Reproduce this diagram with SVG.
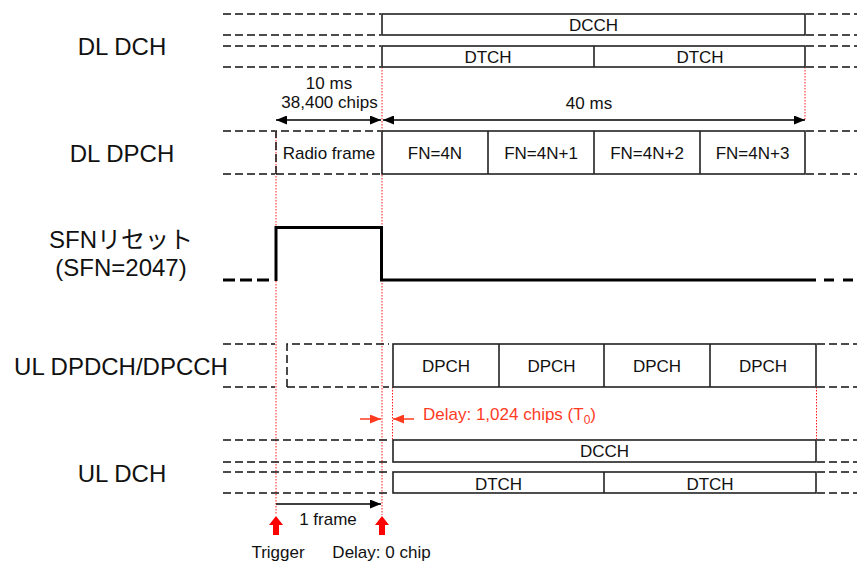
<svg xmlns="http://www.w3.org/2000/svg" width="857" height="563" viewBox="0 0 857 563">
<defs>
<style>
text{font-family:"Liberation Sans",Arial,"Noto Sans CJK JP",sans-serif;fill:#111}
.lbl{font-size:24px;text-anchor:middle}
.t{font-size:17px;text-anchor:middle}
.dash{stroke:#111;stroke-width:1.5;stroke-dasharray:8 4;fill:none}
.box{stroke:#222;stroke-width:1.6;fill:#fff}
.div{stroke:#222;stroke-width:1.6}
.guide{stroke:#ff1a1a;stroke-width:1;stroke-dasharray:1.5 1.5;fill:none}
.sig{stroke:#000;stroke-width:3;fill:none}
.arr{stroke:#000;stroke-width:1.5;fill:none}
.red{fill:#ff3b1f}
</style>
<marker id="ah" markerUnits="userSpaceOnUse" markerWidth="11" markerHeight="9" refX="11" refY="4.5" orient="auto-start-reverse"><path d="M0,0 L11,4.5 L0,9 z" fill="#000"/></marker>
<marker id="ahr" markerUnits="userSpaceOnUse" markerWidth="11" markerHeight="9" refX="11" refY="4.5" orient="auto-start-reverse"><path d="M0,0 L11,4.5 L0,9 z" fill="#ff3b1f"/></marker>
</defs>

<g id="labels">
<text class="lbl" x="122" y="55">DL DCH</text>
<text class="lbl" x="122" y="162">DL DPCH</text>
<text class="lbl" x="121" y="248">SFNリセット</text>
<text class="lbl" x="121" y="276">(SFN=2047)</text>
<text class="lbl" x="121" y="375">UL DPDCH/DPCCH</text>
<text class="lbl" x="122" y="482">UL DCH</text>
</g>

<g id="guides">
<line class="guide" x1="276" y1="131" x2="276" y2="515"/>
<line class="guide" x1="382" y1="67" x2="382" y2="515"/>
<line class="guide" x1="805" y1="67" x2="805" y2="120"/>
<line class="guide" x1="392.5" y1="387" x2="392.5" y2="440"/>
<line class="guide" x1="816.5" y1="387" x2="816.5" y2="440"/>
</g>

<g id="dl-dch">
<path class="dash" d="M223,14H381M223,35H381M223,46H381M223,67H381M806,14H857M806,35H857M806,46H857M806,67H857"/>
<rect class="box" x="382" y="14" width="423" height="21"/>
<rect class="box" x="382" y="46" width="423" height="21"/>
<line class="div" x1="594" y1="46" x2="594" y2="67"/>
<text class="t" x="593.5" y="31">DCCH</text>
<text class="t" x="488" y="63">DTCH</text>
<text class="t" x="700" y="63">DTCH</text>
</g>

<g id="dl-dpch">
<path class="dash" d="M223,131H275M223,174H275M806,131H857M806,174H857"/>
<path class="dash" d="M276,174V131H381M276,174H381"/>
<rect class="box" x="382" y="131" width="423" height="43"/>
<path class="div" d="M488,131V174M594,131V174M700,131V174"/>
<text class="t" x="329" y="159">Radio frame</text>
<text class="t" x="435" y="159">FN=4N</text>
<text class="t" x="541" y="159">FN=4N+1</text>
<text class="t" x="647" y="159">FN=4N+2</text>
<text class="t" x="752.5" y="159">FN=4N+3</text>
</g>

<g id="sfn-reset">
<path class="sig" d="M223,280H271" stroke-dasharray="12 5"/>
<path class="sig" d="M276,281V227.5H381.5V280H816"/>
<path class="sig" d="M824,280H834M843,280H853"/>
</g>

<g id="ul-dpdch">
<path class="dash" d="M223,344H275M223,387H275M287,387V344H389M287,387H389M817,344H857M817,387H857"/>
<rect class="box" x="393" y="344" width="423" height="43"/>
<path class="div" d="M499,344V387M604,344V387M710,344V387"/>
<text class="t" x="446" y="372">DPCH</text>
<text class="t" x="551.5" y="372">DPCH</text>
<text class="t" x="657" y="372">DPCH</text>
<text class="t" x="763" y="372">DPCH</text>
</g>

<g id="ul-dch">
<path class="dash" d="M223,440H389M223,462H389M223,472H389M223,493H389M817,440H857M817,462H857M817,472H857M817,493H857"/>
<rect class="box" x="393" y="440" width="423" height="22"/>
<rect class="box" x="393" y="472" width="423" height="21"/>
<line class="div" x1="604" y1="472" x2="604" y2="493"/>
<text class="t" x="604.5" y="457">DCCH</text>
<text class="t" x="498.5" y="490">DTCH</text>
<text class="t" x="710" y="490">DTCH</text>
</g>

<g id="connectors">
<line class="arr" x1="276" y1="120" x2="381" y2="120" marker-start="url(#ah)" marker-end="url(#ah)"/>
<line class="arr" x1="383" y1="120" x2="805" y2="120" marker-start="url(#ah)" marker-end="url(#ah)"/>
<line class="arr" x1="276" y1="504" x2="381" y2="504" marker-end="url(#ah)"/>
<line x1="360" y1="419" x2="381" y2="419" stroke="#ff3b1f" stroke-width="1.5" marker-end="url(#ahr)"/>
<line x1="414" y1="419" x2="393" y2="419" stroke="#ff3b1f" stroke-width="1.5" marker-end="url(#ahr)"/>
<path d="M276,516 L283,525 L279,525 L279,535 L273,535 L273,525 L269,525 z" fill="#ff0000"/>
<path d="M382,516 L389,525 L385,525 L385,535 L379,535 L379,525 L375,525 z" fill="#ff0000"/>
</g>

<g id="annotations">
<text class="t" x="329" y="89">10 ms</text>
<text class="t" x="329.5" y="108">38,400 chips</text>
<text class="t" x="589" y="109">40 ms</text>
<text x="423" y="420" font-size="17" class="red" style="fill:#ff3b1f">Delay: 1,024 chips (T<tspan font-size="12" dy="4">0</tspan><tspan dy="-4">)</tspan></text>
<text class="t" x="328" y="525">1 frame</text>
<text class="t" x="278" y="558">Trigger</text>
<text class="t" x="381.5" y="558">Delay: 0 chip</text>
</g>
</svg>
